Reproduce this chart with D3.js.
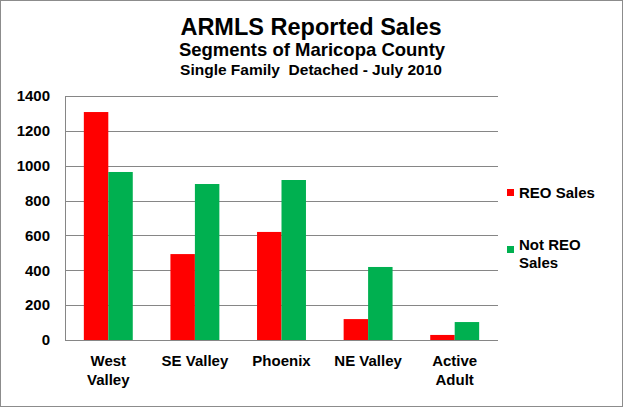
<!DOCTYPE html>
<html><head><meta charset="utf-8">
<script src="https://cdn.jsdelivr.net/npm/d3@7"></script>
<style>body{margin:0;background:#fff}svg{display:block;font-family:Arial,"Liberation Sans",sans-serif}</style>
</head><body><div id="c"></div>
<script>
const categories = ["West Valley","SE Valley","Phoenix","NE Valley","Active Adult"];
const series = ["REO Sales","Not REO Sales"];
const reoSales = [1308, 493, 620, 120, 29];
const notReoSales = [964, 895, 918, 419, 103];
const yTicks = [0,200,400,600,800,1000,1200,1400];
const colors = ["#ff0000","#00b050"];

const W=623,H=407;
const svg=d3.select("#c").append("svg").attr("width",W).attr("height",H);
svg.append("rect").attr("x",0.5).attr("y",0.5).attr("width",W-1).attr("height",H-1).attr("fill","#fff").attr("stroke","#8c8c8c");

const m={l:65,r:125,t:96,b:67};
const x=d3.scaleBand().domain(categories).range([m.l,W-m.r]).paddingInner(0.435).paddingOuter(0.2175);
const x1=d3.scaleBand().domain(series).range([0,x.bandwidth()]);
const y=d3.scaleLinear().domain([0,1400]).range([H-m.b,m.t]);

// grid
svg.append("g").selectAll("line").data(yTicks.filter(d=>d>0)).join("line")
 .attr("x1",m.l).attr("x2",W-m.r).attr("y1",d=>Math.round(y(d))+0.5).attr("y2",d=>Math.round(y(d))+0.5)
 .attr("stroke","#868686");

const data=categories.map((c,i)=>({c,vals:[reoSales[i],notReoSales[i]]}));
svg.append("g").selectAll("g").data(data).join("g").attr("transform",d=>`translate(${x(d.c)},0)`)
 .selectAll("rect").data(d=>d.vals.map((v,j)=>({s:series[j],v,j}))).join("rect")
 .attr("x",d=>x1(d.s)).attr("width",x1.bandwidth()).attr("y",d=>y(d.v)).attr("height",d=>y(0)-y(d.v))
 .attr("fill",d=>colors[d.j]);

// y axis
const ya=svg.append("g").attr("transform",`translate(${m.l},0)`).call(d3.axisLeft(y).tickValues(yTicks).tickFormat(d3.format("d")).tickSize(0).tickPadding(15));
ya.select(".domain").attr("stroke","#868686").attr("d",`M0.5,${m.t}V${H-m.b}`);
ya.selectAll("text").attr("font-size","15px").attr("font-weight","bold").attr("fill","#000").attr("font-family","Arial,'Liberation Sans',sans-serif");
// x axis
const xa=svg.append("g").attr("transform",`translate(0,${H-m.b})`).call(d3.axisBottom(x).tickSize(0).tickFormat(""));
xa.select(".domain").attr("stroke","#868686").attr("d",`M${m.l},0.5H${W-m.r}`);
const lines={"West Valley":["West","Valley"],"SE Valley":["SE Valley"],"Phoenix":["Phoenix"],"NE Valley":["NE Valley"],"Active Adult":["Active","Adult"]};
categories.forEach(c=>{
  const t=svg.append("text").attr("x",x(c)+x.bandwidth()/2).attr("y",366).attr("text-anchor","middle")
   .attr("font-size","15px").attr("font-weight","bold");
  lines[c].forEach((l,i)=>t.append("tspan").attr("x",x(c)+x.bandwidth()/2).attr("dy",i?19:0).text(l));
});

// titles
svg.append("text").attr("x",311).attr("y",35).attr("text-anchor","middle").attr("font-size","23.5px").attr("font-weight","bold").text("ARMLS Reported Sales");
svg.append("text").attr("x",312).attr("y",56).attr("text-anchor","middle").attr("font-size","18.5px").attr("font-weight","bold").text("Segments of Maricopa County");
svg.append("text").attr("x",311).attr("y",75).attr("text-anchor","middle").attr("font-size","15.5px").attr("font-weight","bold").attr("xml:space","preserve").text("Single Family  Detached - July 2010");

// legend
const lg=[{n:"REO Sales",l:["REO Sales"],sy:189,ty:198},{n:"Not REO Sales",l:["Not REO","Sales"],sy:246,ty:250}];
lg.forEach((d,i)=>{
  svg.append("rect").attr("x",507).attr("y",d.sy).attr("width",7).attr("height",7).attr("fill",colors[i]);
  const t=svg.append("text").attr("x",519).attr("y",d.ty).attr("font-size","15px").attr("font-weight","bold");
  d.l.forEach((s,k)=>t.append("tspan").attr("x",519).attr("dy",k?18:0).text(s));
});
</script></body></html>
